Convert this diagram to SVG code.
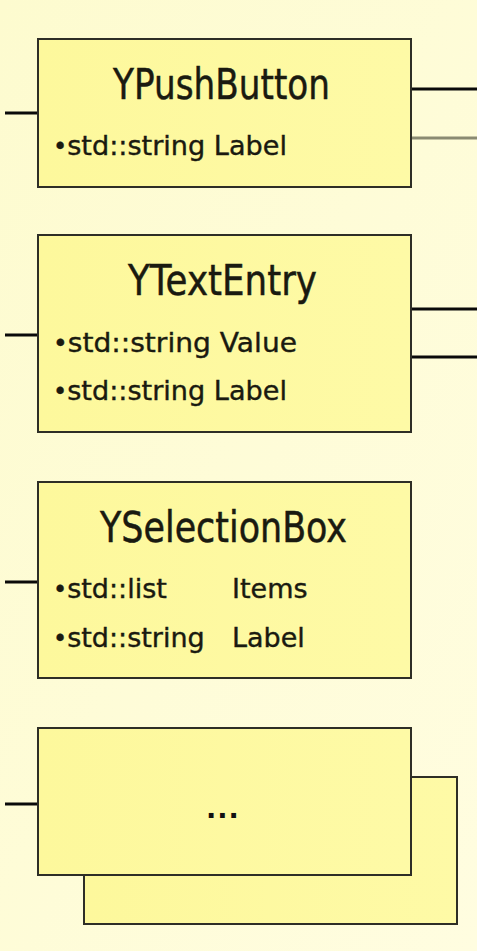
<svg xmlns="http://www.w3.org/2000/svg" width="477" height="951" viewBox="0 0 477 951">
  <defs>
    <linearGradient id="bg" x1="0" y1="0" x2="1" y2="1">
      <stop offset="0" stop-color="#fdfbcf"/>
      <stop offset="1" stop-color="#fffde0"/>
    </linearGradient>
    <linearGradient id="fill" x1="0" y1="0" x2="1" y2="0">
      <stop offset="0" stop-color="#fdf89c"/>
      <stop offset="1" stop-color="#fefaa6"/>
    </linearGradient>
  </defs>
  <style>
    .box { fill: url(#fill); stroke: #2e2e26; stroke-width: 2; }
    .title { font-family: "DejaVu Sans", sans-serif; font-size: 42px; fill: #1a1a10; stroke: #1a1a10; stroke-width: 0.5; }
    .attr { font-family: "DejaVu Sans", sans-serif; font-size: 27px; fill: #1a1a10; stroke: #1a1a10; stroke-width: 0.4; }
    .bul { font-size: 24px; }
    .dots { font-family: "DejaVu Sans", sans-serif; font-size: 27px; font-weight: bold; fill: #111; letter-spacing: 1px; }
    .conn { stroke: #0a0a0a; stroke-width: 3; fill: none; }
    .conn-gray { stroke: #8a8a72; stroke-width: 3; fill: none; }
  </style>
  <rect x="0" y="0" width="477" height="951" fill="url(#bg)"/>

  <g id="connectors">
    <line class="conn" x1="5" y1="113" x2="38" y2="113"/>
    <line class="conn" x1="411" y1="89" x2="477" y2="89"/>
    <line class="conn-gray" x1="411" y1="138" x2="477" y2="138"/>
    <line class="conn" x1="5" y1="335" x2="38" y2="335"/>
    <line class="conn" x1="411" y1="309" x2="477" y2="309"/>
    <line class="conn" x1="411" y1="357" x2="477" y2="357"/>
    <line class="conn" x1="5" y1="582" x2="38" y2="582"/>
    <line class="conn" x1="5" y1="804" x2="38" y2="804"/>
  </g>

  <g id="ypushbutton">
    <rect class="box" x="38" y="39" width="373" height="148"/>
    <text class="title" x="113" y="99" textLength="217" lengthAdjust="spacingAndGlyphs">YPushButton</text>
    <text class="attr" x="53" y="155" textLength="234" lengthAdjust="spacingAndGlyphs"><tspan class="bul">•</tspan>std::string Label</text>
  </g>

  <g id="ytextentry">
    <rect class="box" x="38" y="235" width="373" height="197"/>
    <text class="title" x="128" y="295" textLength="189" lengthAdjust="spacingAndGlyphs">YTextEntry</text>
    <text class="attr" x="53" y="352" textLength="244" lengthAdjust="spacingAndGlyphs"><tspan class="bul">•</tspan>std::string Value</text>
    <text class="attr" x="53" y="400" textLength="234" lengthAdjust="spacingAndGlyphs"><tspan class="bul">•</tspan>std::string Label</text>
  </g>

  <g id="yselectionbox">
    <rect class="box" x="38" y="482" width="373" height="196"/>
    <text class="title" x="100" y="542" textLength="247" lengthAdjust="spacingAndGlyphs">YSelectionBox</text>
    <text class="attr" x="53" y="598"><tspan class="bul">•</tspan>std::list</text>
    <text class="attr" x="232" y="598">Items</text>
    <text class="attr" x="53" y="647"><tspan class="bul">•</tspan>std::string</text>
    <text class="attr" x="232" y="647">Label</text>
  </g>

  <g id="more">
    <rect class="box" x="84" y="777" width="373" height="147"/>
    <rect class="box" x="38" y="728" width="373" height="147"/>
    <text class="dots" x="223" y="818" text-anchor="middle">...</text>
  </g>
</svg>
